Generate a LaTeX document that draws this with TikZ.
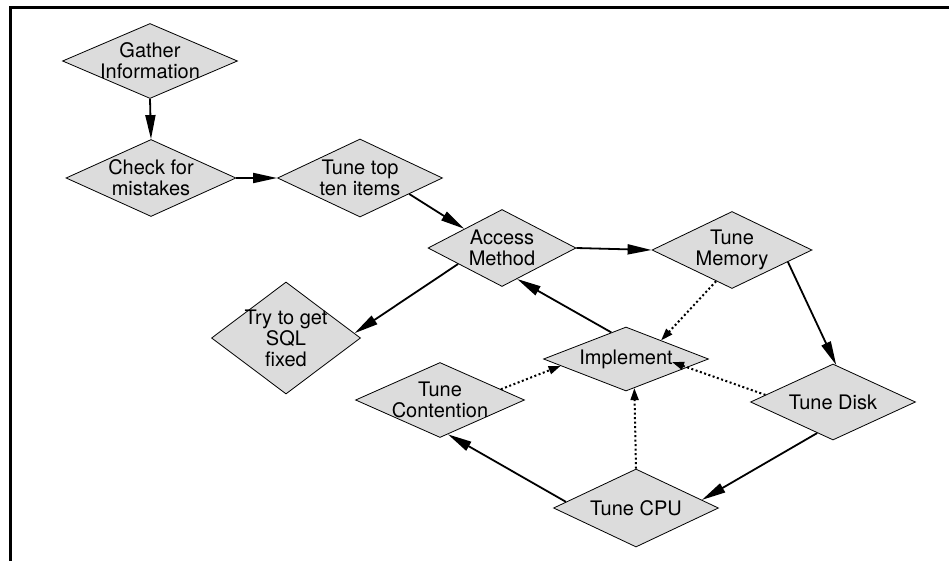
\documentclass[tikz,border=0pt]{standalone}
\usepackage{fontspec}
\setmainfont{TeX Gyre Heros}
\usetikzlibrary{arrows.meta,shapes.geometric,calc}
\definecolor{dgray}{RGB}{220,220,220}
\tikzset{
  dia/.style={draw, diamond, aspect=2, inner sep=-7pt, fill=dgray, line width=0.8pt, align=center, font=\fontsize{20}{21}\selectfont},
  arr/.style={-{Triangle[length=24pt, width=10pt]}, line width=1.8pt},
  darr/.style={-{Triangle[length=12pt, width=8pt]}, line width=2pt, dash pattern=on 2pt off 2.5pt},
}
\begin{document}
\begin{tikzpicture}[x=1pt, y=-1pt]
\useasboundingbox (0,0) rectangle (949,561);
\draw[line width=3pt] (949,7.5) -- (10.5,7.5) -- (10.5,561);

\node[dia, minimum width=175pt, minimum height=75pt] (gather) at (150,61) {Gather\\Information};
\node[dia, minimum width=170pt, minimum height=77pt] (check) at (151,178) {Check for\\mistakes};
\node[dia, minimum width=165pt, minimum height=78pt] (top10) at (360,178) {Tune top\\ten items};
\node[dia, minimum width=148pt, minimum height=77pt] (access) at (502,248) {Access\\Method};
\node[dia, aspect=1.3, minimum width=149pt, minimum height=112pt] (sql) at (286,338) {Try to get\\SQL\\fixed};
\node[dia, minimum width=160pt, minimum height=77pt] (memory) at (732,250) {Tune\\Memory};
\node[dia, minimum width=165pt, minimum height=64pt] (impl) at (626,359) {Implement};
\node[dia, minimum width=169pt, minimum height=75pt] (cont) at (440,400) {Tune\\Contention};
\node[dia, minimum width=165pt, minimum height=76pt] (disk) at (833,402) {Tune Disk};
\node[dia, minimum width=165pt, minimum height=78pt] (cpu) at (636,508) {Tune CPU};

% main path
\draw[arr] (gather.south) -- (check.north);
\draw[arr] (check.east) -- (top10.west);
\draw[arr] (top10.-18) -- (access.153);
\draw[arr] (access.east) -- (memory.west);
\draw[arr] (access.-160) -- (sql.4);
\draw[arr] (memory.-12) -- (disk.85);
\draw[arr] (disk.-117) -- (cpu.7);
\draw[arr] (cpu.175) -- (cont.-77);
\draw[arr] (impl.119) -- (access.-64);

% back to implement
\draw[darr] (memory.-117) -- (impl.28);
\draw[darr] (disk.174) -- ($(impl)+(46,3)$);
\draw[darr] (cpu.north) -- (impl.-74);
\draw[darr] (cont.10) -- (impl.-174);

\end{tikzpicture}
\end{document}
